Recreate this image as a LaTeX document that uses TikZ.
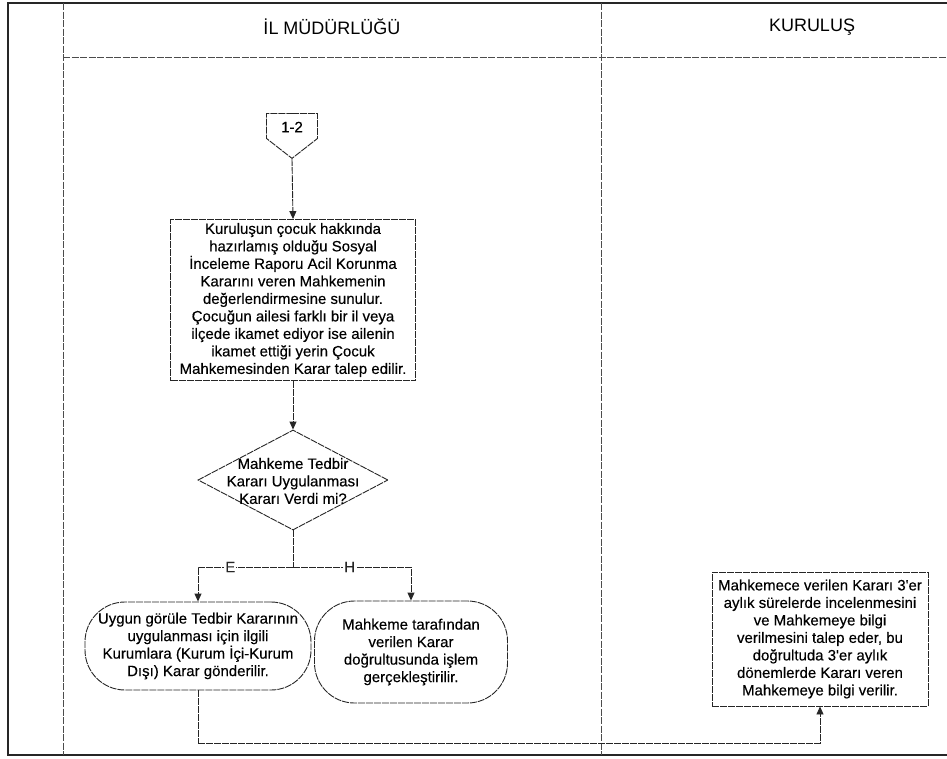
\documentclass[tikz,border=0pt]{standalone}
\usepackage{fontspec}
\setmainfont{Liberation Sans}
\newfontfamily\scanfam{Liberation Sans}[FakeBold=0.3]
\usetikzlibrary{arrows.meta,shapes.geometric,shapes.symbols}

\newcommand{\flowfont}{\scanfam\fontsize{15}{17.5}\selectfont}
\newcommand{\headfont}{\fontsize{18}{20}\selectfont}

\tikzset{
  frameline/.style={black!85, line width=1.6pt},
  laneline/.style={gray!60!black, line width=0.9pt, dash pattern=on 7pt off 1.5pt},
  flowbox/.style={draw=black!85, line width=0.9pt, dash pattern=on 7pt off 1pt,
    align=center, font=\flowfont, inner sep=1pt},
  procbox/.style={flowbox, minimum width=245pt, minimum height=161pt},
  infobox/.style={flowbox, minimum width=216pt, minimum height=134pt},
  termbox/.style={flowbox, rounded corners=40pt},
  decision/.style={flowbox, diamond, minimum width=190pt, minimum height=100pt, inner sep=0pt},
  offpage/.style={flowbox, signal, signal to=south, signal pointer angle=104,
    minimum width=51pt, minimum height=25pt, inner sep=0pt},
  conn/.style={black!85, line width=0.9pt, dash pattern=on 7pt off 1pt,
    -{Triangle[length=8pt,width=7pt]}},
  link/.style={black!85, line width=0.9pt, dash pattern=on 7pt off 1pt},
  branch/.style={fill=white, inner sep=1pt, font=\flowfont}
}

\begin{document}
\begin{tikzpicture}[x=1pt, y=-1pt]
  \useasboundingbox (0,0) rectangle (947,758);

  % Frame and lanes
  \draw[frameline] (960,3) -- (8,3) -- (8,755) -- (960,755);
  \draw[laneline] (63,3) -- (63,755);
  \draw[laneline] (601,3) -- (601,755);
  \draw[laneline] (63,57) -- (960,57);

  % Lane headers
  \node[font=\headfont] (hdrIl) at (332,27) {İL MÜDÜRLÜĞÜ};
  \node[font=\headfont] (hdrKur) at (812,27) {KURULUŞ};

  % Off-page reference
  \node[offpage, anchor=north] (ref) at (292,113) {};
  \node[font=\flowfont] (refTxt) at (292,127) {1-2};

  % Report box
  \node[procbox] (report) at (293,300) {Kuruluşun çocuk hakkında\\
    hazırlamış olduğu Sosyal\\
    İnceleme Raporu Acil Korunma\\
    Kararını veren Mahkemenin\\
    değerlendirmesine sunulur.\\
    Çocuğun ailesi farklı bir il veya\\
    ilçede ikamet ediyor ise ailenin\\
    ikamet ettiği yerin Çocuk\\
    Mahkemesinden Karar talep edilir.};

  % Decision
  \node[decision] (dec) at (293,480) {};
  \node[font=\flowfont, align=center] (decTxt) at (293,481) {Mahkeme Tedbir\\
    Kararı Uygulanması\\ Kararı Verdi mi?};

  % Outcomes
  \node[termbox, minimum width=226pt, minimum height=88pt] (termE) at (198,646)
    {Uygun görüle Tedbir Kararının\\ uygulanması için ilgili\\
     Kurumlara (Kurum İçi-Kurum\\ Dışı) Karar gönderilir.};
  \node[termbox, minimum width=193pt, minimum height=102pt] (termH) at (411,652)
    {Mahkeme tarafından\\ verilen Karar\\ doğrultusunda işlem\\ gerçekleştirilir.};

  % Kurulus lane
  \node[infobox] (info) at (820,639) {Mahkemece verilen Kararı 3'er\\
    aylık sürelerde incelenmesini\\
    ve Mahkemeye bilgi\\
    verilmesini talep eder, bu\\
    doğrultuda 3'er aylık\\
    dönemlerde Kararı veren\\
    Mahkemeye bilgi verilir.};

  % Connectors
  \coordinate (split) at (293,567);
  \coordinate (loopL) at (198,743);
  \draw[conn] (ref.south) -- (report.north);
  \draw[conn] (report.south) -- (dec.north);
  \draw[link] (dec.south) -- (split);
  \draw[conn] (split) -| node[branch, pos=0.33] {E} (termE.north);
  \draw[conn] (split) -| node[branch, pos=0.24] {H} (termH.north);
  \draw[link] (termE.south) -- (loopL);
  \draw[conn] (loopL) -| (info.south);
\end{tikzpicture}
\end{document}
